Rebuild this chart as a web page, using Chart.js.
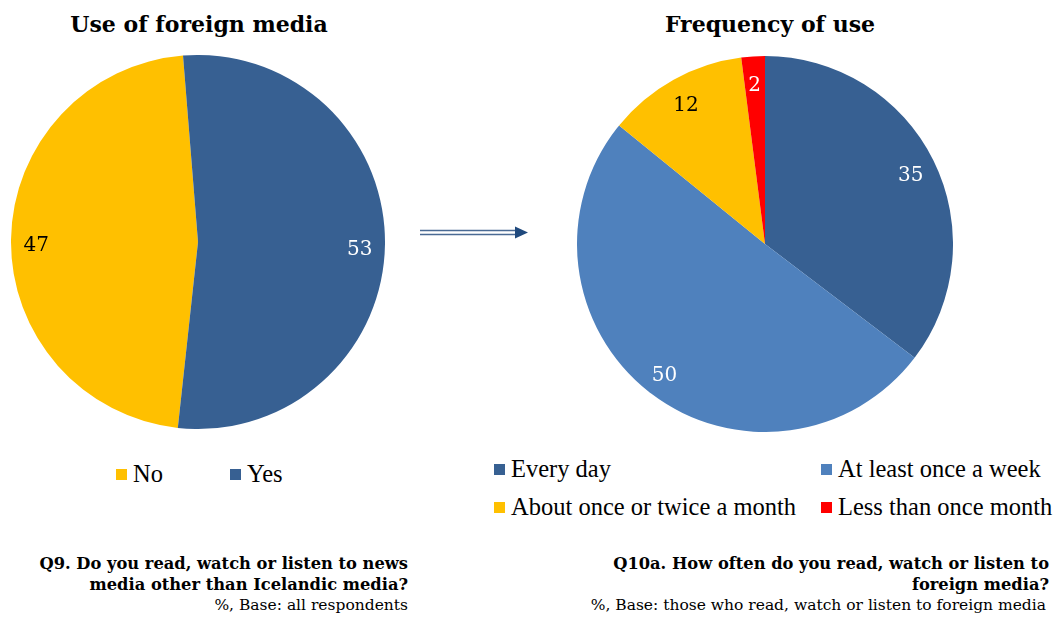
<!DOCTYPE html>
<html>
<head>
<meta charset="utf-8">
<script src="https://cdn.jsdelivr.net/npm/chart.js@4/dist/chart.umd.min.js"></script>
<style>
  html, body { margin:0; padding:0; background:#fff; }
  body { width:1058px; height:617px; position:relative; overflow:hidden; }
  .abs { position:absolute; }
  .title { font-family:"DejaVu Serif", serif; font-weight:bold; font-size:22px; color:#000; text-align:center; white-space:nowrap; }
  .leg { font-family:"Liberation Serif", serif; font-size:24.5px; line-height:24px; color:#000; white-space:nowrap; display:flex; align-items:center; }
  .sw { display:inline-block; width:11px; height:11px; margin-right:6px; }
  .q { font-family:"DejaVu Serif", serif; font-size:15.5px; color:#000; text-align:right; white-space:nowrap; line-height:20.5px; }
  .q b { font-size:16.3px; }
</style>
</head>
<body>
<div class="abs title" id="t1" style="left:0; width:398px; top:11px;"></div>
<div class="abs title" id="t2" style="left:570px; width:400px; top:11px;"></div>

<div class="abs" style="left:11px; top:55px; width:374px; height:374px;"><canvas id="c1"></canvas></div>
<div class="abs" style="left:577px; top:56px; width:376px; height:376px;"><canvas id="c2"></canvas></div>

<svg class="abs" style="left:415px; top:222px;" width="120" height="22">
  <line x1="5" y1="8.5" x2="102" y2="8.5" stroke="#4a6a94" stroke-width="1.6"/>
  <line x1="5" y1="12.5" x2="102" y2="12.5" stroke="#4a6a94" stroke-width="1.6"/>
  <polygon points="100,4.5 113,10.5 100,16.5" fill="#1f497d"/>
</svg>

<div id="legend1"></div>
<div id="legend2"></div>

<div class="abs q" style="right:650px; top:554px;"><b>Q9. Do you read, watch or listen to news<br>media other than Icelandic media?</b><br>%, Base: all respondents</div>
<div class="abs q" style="right:9px; top:554px;"><b>Q10a. How often do you read, watch or listen to<br>foreign media?</b><br><span style="position:relative; left:-3px;">%, Base: those who read, watch or listen to foreign media</span></div>

<script>
const title1 = "Use of foreign media";
const title2 = "Frequency of use";
const useLabels = ["No", "Yes"];
const useValues = [47, 53];
const useColors = ["#FFC000", "#376092"];
const useLabelColors = ["#000000", "#ffffff"];

const freqLabels = ["Every day", "At least once a week", "About once or twice a month", "Less than once month"];
const freqValues = [35, 50, 12, 2];
const freqColors = ["#376092", "#4F81BD", "#FFC000", "#FF0000"];
const freqLabelColors = ["#ffffff", "#ffffff", "#000000", "#ffffff"];

document.getElementById('t1').textContent = title1;
document.getElementById('t2').textContent = title2;

const valueLabels = {
  id: 'valueLabels',
  afterDatasetsDraw(chart, args, opts) {
    const ctx = chart.ctx;
    const meta = chart.getDatasetMeta(0);
    const ds = chart.data.datasets[0];
    ctx.save();
    ctx.font = '20px "DejaVu Serif", serif';
    ctx.textAlign = 'center';
    ctx.textBaseline = 'middle';
    meta.data.forEach((arc, i) => {
      const p = arc.getProps(['x','y','startAngle','endAngle','outerRadius'], true);
      const mid = (p.startAngle + p.endAngle) / 2;
      const r = p.outerRadius * opts.frac;
      ctx.fillStyle = opts.colors[i];
      ctx.fillText(String(ds.data[i]), p.x + Math.cos(mid) * r, p.y + Math.sin(mid) * r + opts.dy);
    });
    ctx.restore();
  }
};

function makePie(id, labels, values, colors, labelColors, rotation, dy) {
  return new Chart(document.getElementById(id), {
    type: 'pie',
    data: { labels, datasets: [{ data: values, backgroundColor: colors, borderWidth: 0 }] },
    options: {
      responsive: true,
      maintainAspectRatio: false,
      animation: false,
      rotation: rotation,
      layout: { padding: 0 },
      plugins: {
        legend: { display: false },
        tooltip: { enabled: false },
        valueLabels: { colors: labelColors, frac: 0.865, dy: dy }
      }
    },
    plugins: [valueLabels]
  });
}

makePie('c1', useLabels, useValues, useColors, useLabelColors, 186.2, 6);
makePie('c2', freqLabels, freqValues, freqColors, freqLabelColors, 0, 4);

function legend(containerId, labels, colors, positions) {
  const c = document.getElementById(containerId);
  labels.forEach((l, i) => {
    const d = document.createElement('div');
    d.className = 'abs leg';
    d.style.left = positions[i][0] + 'px';
    d.style.top = positions[i][1] + 'px';
    const s = document.createElement('span');
    s.className = 'sw';
    s.style.background = colors[i];
    d.appendChild(s);
    d.appendChild(document.createTextNode(l));
    c.appendChild(d);
  });
}
legend('legend1', useLabels, useColors, [[116, 462], [230, 462]]);
legend('legend2', freqLabels, freqColors, [[494, 457], [821, 457], [494, 495], [821, 495]]);
</script>
</body>
</html>
